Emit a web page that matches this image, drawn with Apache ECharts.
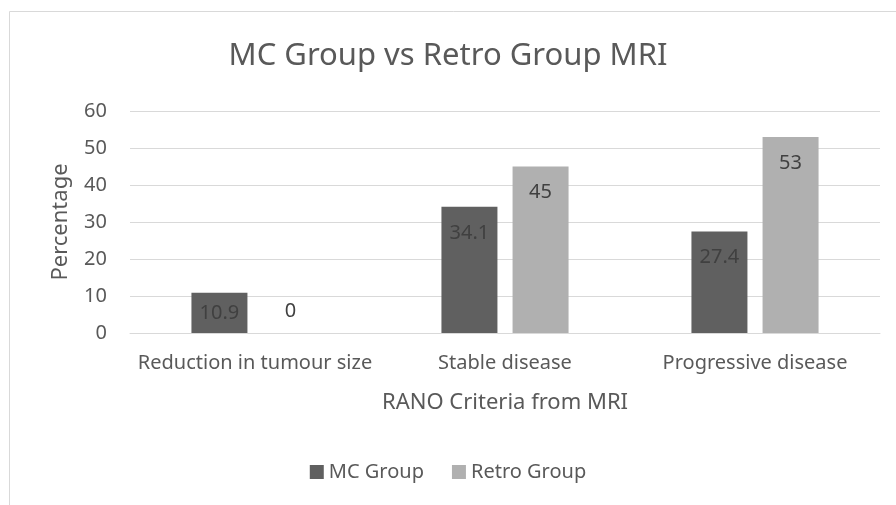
<!DOCTYPE html>
<html>
<head>
<meta charset="utf-8">
<script src="https://cdn.jsdelivr.net/npm/echarts@6/dist/echarts.min.js"></script>
<style>
  html, body { margin: 0; padding: 0; background: #fff; }
  #chart { width: 896px; height: 505px; }
</style>
</head>
<body>
<div id="chart"></div>
<script>
const categories = ['Reduction in tumour size', 'Stable disease', 'Progressive disease']
const mcGroup = [10.9, 34.1, 27.4]
const retroGroup = [0, 45, 53]
const yTicks = { min: 0, max: 60, interval: 10 }

const font = 'Noto Sans'
const textColor = '#595959'

// label placement similar to excel: inside top, short bars centered, zero above
const toItems = (values) => values.map((v) => {
  let label = { position: 'insideTop', distance: 16 }
  if (v === 0) label = { position: 'top', distance: 12, color: '#404040' }
  else if (v < 15) label = { position: 'inside' }
  return { value: v, label }
})

const chart = echarts.init(document.getElementById('chart'))
chart.setOption({
  animation: false,
  graphic: [{
    type: 'rect',
    shape: { x: 9.5, y: 11.5, width: 900, height: 520 },
    style: { fill: 'none', stroke: '#d9d9d9', lineWidth: 1 },
    silent: true,
  }],
  title: {
    text: 'MC Group vs Retro Group MRI',
    left: 'center',
    top: 36,
    textStyle: { fontFamily: font, fontSize: 31, fontWeight: 'normal', color: textColor },
  },
  legend: {
    bottom: 18,
    left: 'center',
    itemWidth: 14,
    itemHeight: 14,
    itemGap: 28,
    icon: 'rect',
    textStyle: { fontFamily: font, fontSize: 20, color: textColor },
    data: ['MC Group', 'Retro Group'],
  },
  grid: { left: 130, right: 16, top: 111, bottom: 172 },
  xAxis: {
    type: 'category',
    data: categories,
    name: 'RANO Criteria from MRI',
    nameLocation: 'middle',
    nameGap: 59,
    nameTextStyle: { fontFamily: font, fontSize: 22, color: textColor },
    axisLine: { lineStyle: { color: '#d9d9d9', width: 1 } },
    axisTick: { show: false },
    axisLabel: { fontFamily: font, fontSize: 20, color: textColor, margin: 20, interval: 0, hideOverlap: false },
  },
  yAxis: {
    type: 'value',
    min: yTicks.min,
    max: yTicks.max,
    interval: yTicks.interval,
    name: 'Percentage',
    nameLocation: 'middle',
    nameGap: 58,
    nameTextStyle: { fontFamily: font, fontSize: 22, color: textColor },
    axisLabel: { fontFamily: font, fontSize: 20, color: textColor, margin: 23 },
    splitLine: { lineStyle: { color: '#d9d9d9', width: 1 } },
  },
  series: [
    {
      name: 'MC Group',
      type: 'bar',
      data: toItems(mcGroup),
      barWidth: 56,
      barGap: '27%',
      itemStyle: { color: '#606060' },
      label: { show: true, fontFamily: font, fontSize: 20, color: '#404040' },
    },
    {
      name: 'Retro Group',
      type: 'bar',
      data: toItems(retroGroup),
      barWidth: 56,
      itemStyle: { color: '#b0b0b0' },
      label: { show: true, fontFamily: font, fontSize: 20, color: '#404040' },
    },
  ],
})
</script>
</body>
</html>
